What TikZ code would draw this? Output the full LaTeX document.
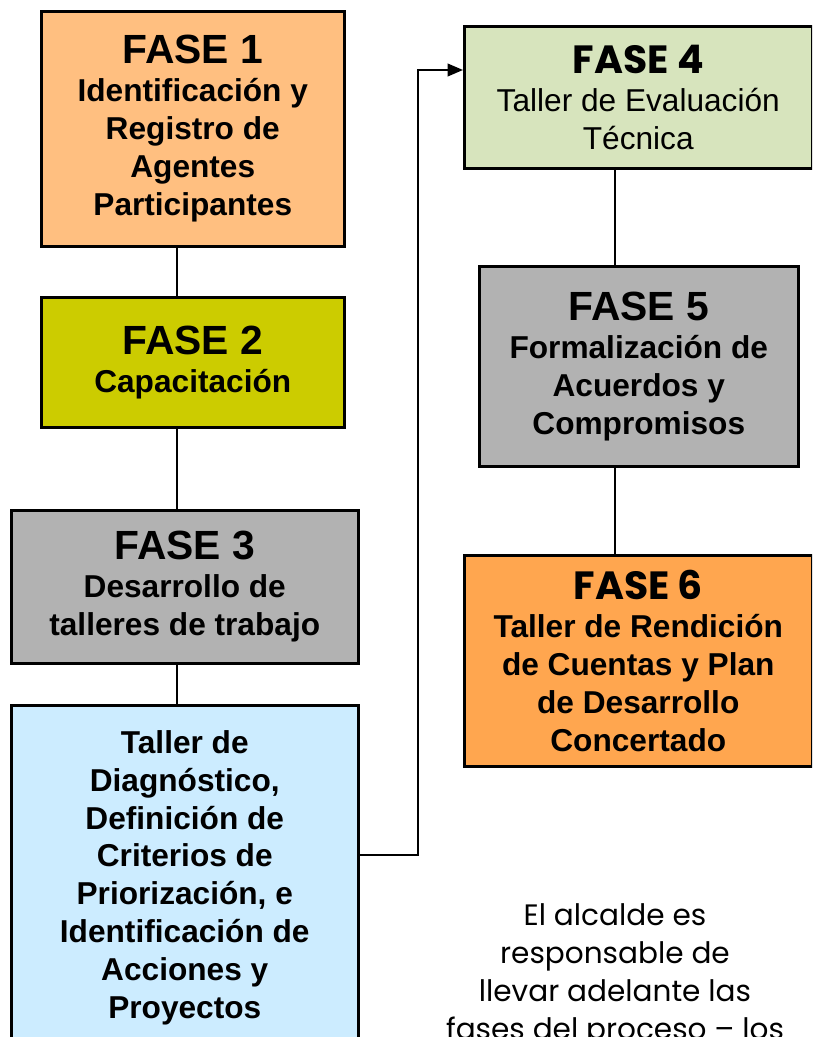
\documentclass[tikz,border=0pt]{standalone}
\usepackage{fontspec}
\setmainfont{Liberation Sans}
\newfontfamily\comicfont{Poppins}
\usetikzlibrary{positioning,arrows.meta}

\definecolor{naranjaclaro}{HTML}{FFBF80}
\definecolor{oliva}{HTML}{CCCC00}
\definecolor{gris}{HTML}{B2B2B2}
\definecolor{celeste}{HTML}{CCECFF}
\definecolor{verdeclaro}{HTML}{D7E4BD}
\definecolor{naranja}{HTML}{FFA64F}

\newcommand{\titfase}[1]{{\fontsize{29}{27}\selectfont #1}}
\newcommand{\titcomic}[1]{{\comicfont\bfseries\fontsize{28}{27}\selectfont #1}}

\begin{document}
\begin{tikzpicture}[x=0.025cm, y=-0.025cm,
    fase/.style={draw, line width=1.8pt, align=center, inner sep=0pt, anchor=north west,
        font=\bfseries\fontsize{22.5}{27}\selectfont},
    link/.style={line width=1.4pt}]
    \useasboundingbox (0,0) rectangle (812,1037);
    \clip (0,0) rectangle (812,1037);

    % left column
    \node[fase, fill=naranjaclaro, minimum width=303*0.025cm, minimum height=235*0.025cm] (fase1) at (40,10)
        {\titfase{FASE 1}\\Identificación y\\Registro de\\Agentes\\Participantes};
    \node[fase, fill=oliva, minimum width=303*0.025cm, minimum height=130*0.025cm] (fase2) at (40,296)
        {\titfase{FASE 2}\\Capacitación};
    \node[fase, fill=gris, minimum width=347*0.025cm, minimum height=153*0.025cm] (fase3) at (10,509)
        {\titfase{FASE 3}\\Desarrollo de\\talleres de trabajo};
    \node[fase, fill=celeste, minimum width=347*0.025cm, minimum height=345*0.025cm] (taller) at (10,704)
        {Taller de\\Diagnóstico,\\Definición de\\Criterios de\\Priorización, e\\Identificación de\\Acciones y\\Proyectos};

    % right column
    \node[fase, fill=verdeclaro, minimum width=348*0.025cm, minimum height=142*0.025cm, font=\fontsize{22.5}{27}\selectfont] (fase4) at (463,25)
        {\titcomic{FASE 4}\\Taller de Evaluación\\Técnica};
    \node[fase, fill=gris, minimum width=319*0.025cm, minimum height=200*0.025cm] (fase5) at (478,265)
        {\titfase{FASE 5}\\Formalización de\\Acuerdos y\\Compromisos};
    \node[fase, fill=naranja, minimum width=348*0.025cm, minimum height=211*0.025cm] (fase6) at (463,554)
        {\titcomic{FASE 6}\\Taller de Rendición\\de Cuentas y Plan\\de Desarrollo\\Concertado};

    \node[align=center, inner sep=0pt, anchor=north, font=\comicfont\fontsize{21}{27}\selectfont] (nota) at (615,903)
        {El alcalde es\\responsable de\\llevar adelante las\\fases del proceso – los};

    % connectors
    \coordinate (ejeizq) at (177,0);
    \coordinate (ejeder) at (615,0);
    \coordinate (codo) at (418,855);
    \coordinate (punta) at (418,70);
    \draw[link] (fase1.south -| ejeizq) -- (fase2.north -| ejeizq);
    \draw[link] (fase2.south -| ejeizq) -- (fase3.north -| ejeizq);
    \draw[link] (fase3.south -| ejeizq) -- (taller.north -| ejeizq);
    \draw[link] (fase4.south -| ejeder) -- (fase5.north -| ejeder);
    \draw[link] (fase5.south -| ejeder) -- (fase6.north -| ejeder);
    \draw[link, -{Triangle[length=11pt, width=9pt]}] (taller.east |- codo) -- (codo) -- (punta) -- (fase4.west |- punta);
\end{tikzpicture}
\end{document}
